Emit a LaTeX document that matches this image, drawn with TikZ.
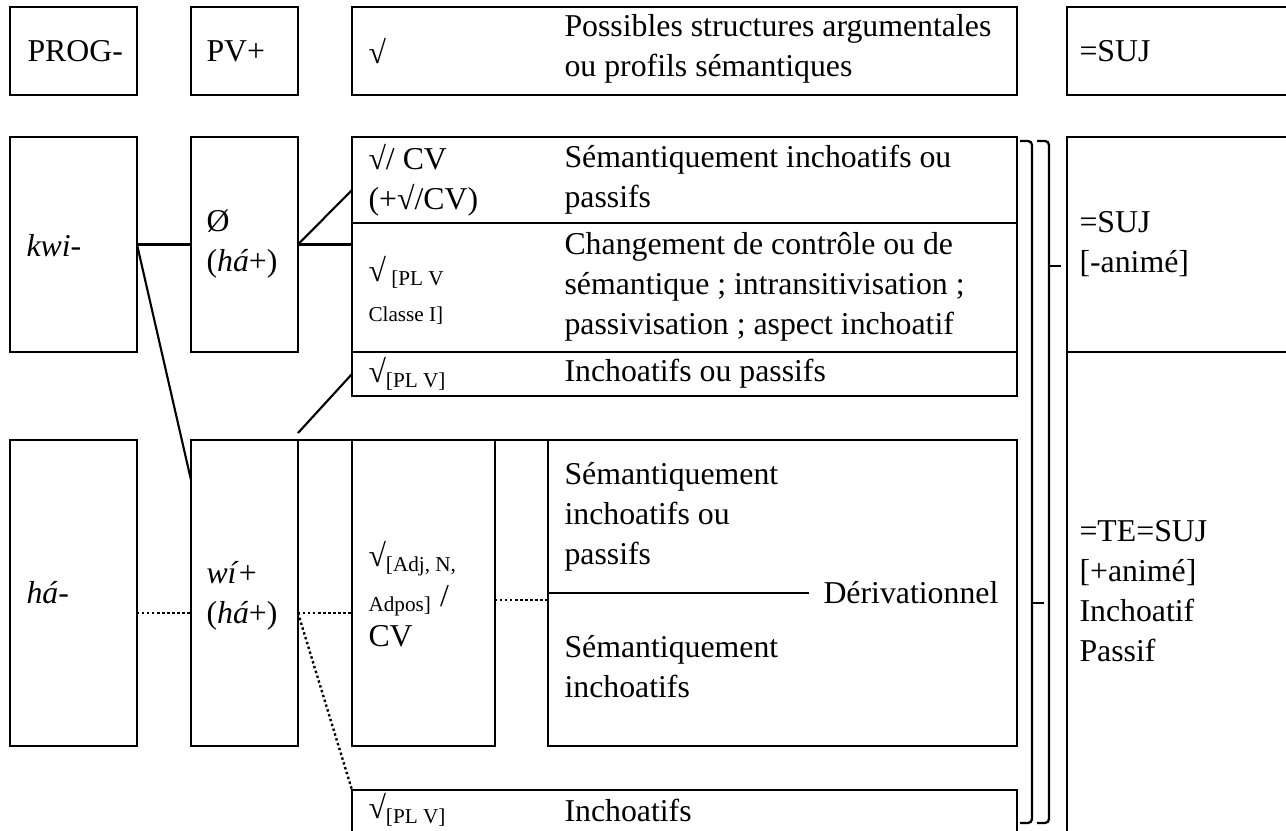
\documentclass[tikz,border=0pt]{standalone}
\usepackage{fontspec}
\setmainfont{Liberation Serif}
\usetikzlibrary{positioning, calc, fit}

\tikzset{
  box/.style={draw, line width=0.85pt, inner sep=0pt, outer sep=0pt},
  txt/.style={font=\fontsize{12}{15.1}\selectfont, align=left, inner sep=0pt, anchor=west},
  link/.style={line width=0.8pt},
  dotlink/.style={line width=0.9pt, densely dotted},
  brace/.style={line width=0.85pt, rounded corners=1.5pt},
}

\begin{document}
\begin{tikzpicture}[x=0.3774pt, y=-0.3774pt]
    \useasboundingbox (0,0) rectangle (1286,831);
    \clip (0,0) rectangle (1286,831);
    % Header row
    \node[box, fit={(10,7) (137,95)}] (prog) {};
    \node[box, fit={(191,7) (298,95)}] (pv) {};
    \node[box, fit={(352,7) (1017,95)}] (root) {};
    \node[box, fit={(1067,7) (1295,95)}] (suj) {};
    \node[txt] (progT) at (27,51) {PROG-};
    \node[txt] (pvT) at (206,51) {PV+};
    \node[txt] (rootT) at (368,51) {√};
    \node[txt] (rootD) at (564,49) {Possibles structures argumentales\\ou profils sémantiques};
    \node[txt] (sujT) at (1079,51) {=SUJ};
    % kwi- branch
    \node[box, fit={(10,137) (137,352)}] (kwi) {};
    \node[box, fit={(191,137) (298,352)}] (zero) {};
    \node[box, fit={(352,137) (1017,223)}] (rA) {};
    \node[box, fit={(352,223) (1017,352)}] (rB) {};
    \node[box, fit={(352,352) (1017,396)}] (rC) {};
    \node[box, fit={(1067,137) (1295,352)}] (sujA) {};
    \node[box, fit={(1067,352) (1295,840)}] (te) {};
    \node[txt] (kwiT) at (26,246) {\textit{kwi}-};
    \node[txt] (zeroT) at (206,244) {Ø\\(\textit{há}+)};
    \node[txt] (rAT) at (368,180) {√/ CV\\(+√/CV)};
    \node[txt] (rAD) at (564,180) {Sémantiquement inchoatifs ou\\passifs};
    \node[txt] (rBT) at (368,290) {√\textsubscript{ [PL V}\\{\fontsize{8}{10}\selectfont Classe I]}};
    \node[txt] (rBD) at (564,287) {Changement de contrôle ou de\\sémantique ; intransitivisation ;\\passivisation ; aspect inchoatif};
    \node[txt] (rCT) at (368,374) {√\textsubscript{[PL V]}};
    \node[txt] (rCD) at (564,374) {Inchoatifs ou passifs};
    \node[txt] (sujAT) at (1079,244) {=SUJ\\{[}-animé{]}};
    \node[txt] (teT) at (1079,591) {=TE=SUJ\\{[}+animé{]}\\Inchoatif\\Passif};
    % há- branch
    \node[box, fit={(10,440) (137,746)}] (ha) {};
    \node[box, fit={(191,440) (298,746)}] (wi) {};
    \node[box, fit={(352,440) (495,746)}] (adj) {};
    \node[box, fit={(548,440) (1017,746)}] (sem) {};
    \node[box, fit={(352,790) (1017,845)}] (rD) {};
    \node[txt] (haT) at (26,593) {\textit{há}-};
    \node[txt] (wiT) at (206,596) {\textit{wí}+\\(\textit{há}+)};
    \node[txt] (adjT) at (368,594) {√\textsubscript{[Adj, N,}\\\textsubscript{Adpos]} /\\CV};
    \node[txt] (semA) at (564,517) {Sémantiquement\\inchoatifs ou\\passifs};
    \node[txt] (semB) at (564,667) {Sémantiquement\\inchoatifs};
    \node[txt] (deriv) at (823,593) {Dérivationnel};
    \node[txt] (rDT) at (368,810) {√\textsubscript{[PL V]}};
    \node[txt] (rDD) at (564,810) {Inchoatifs};
    \draw[link] (sem.west) -- ($(deriv.west)+(-14,0)$);
    % Solid links
    \draw[link] (kwi.east) -- (kwi.east -| zero.west);
    \draw[link] (kwi.east) -- ($(wi.north west)+(0,40)$);
    \draw[link] (zero.east) -- ($(rA.south west)+(0,-33)$);
    \draw[link] (zero.east) -- (zero.east -| rB.west);
    \draw[link] ($(wi.north east)+(0,-7)$) -- (rC.west);
    \draw[link] (wi.north east) -- (adj.north west);
    \draw[link] (adj.north east) -- (sem.north west);
    % Dotted links
    \draw[dotlink] ($(ha.east)+(0,20)$) -- ($(wi.west)+(0,20)$);
    \draw[dotlink] ($(wi.east)+(0,20)$) -- ($(adj.west)+(0,20)$);
    \draw[dotlink] ($(adj.east)+(0,7)$) -- ($(sem.west)+(0,7)$);
    \draw[dotlink] ($(wi.east)+(0,20)$) -- (rD.north west);
    % Brackets
    \draw[brace] (1020,141) -- (1032,141) -- (1032,823) -- (1020,823);
    \draw[brace] (1032,603) -- (1044,603);
    \draw[brace] (1037,141) -- (1049,141) -- (1049,823) -- (1037,823);
    \draw[brace] (1049,266) -- (1061,266);
\end{tikzpicture}
\end{document}
